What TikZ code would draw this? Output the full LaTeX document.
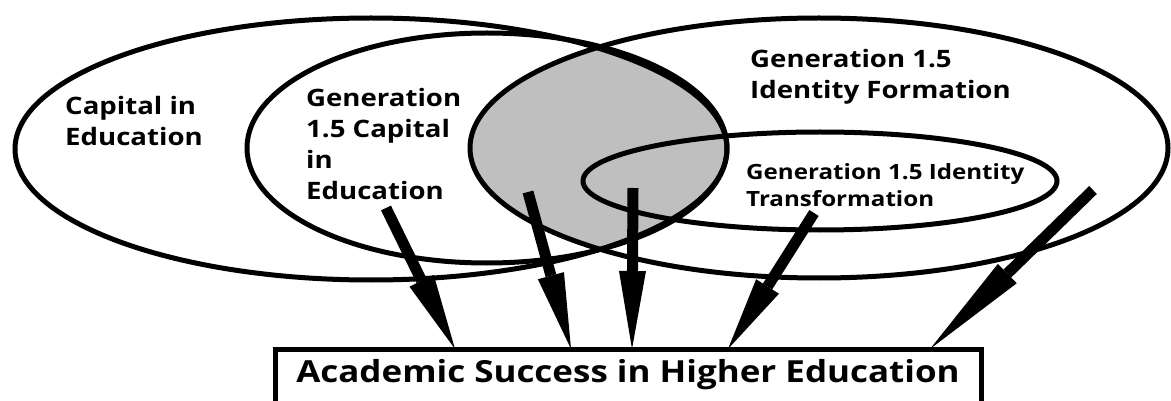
\documentclass[tikz,border=0pt]{standalone}
\usepackage{fontspec}
\setmainfont{Open Sans}[FakeStretch=1.15]
\usetikzlibrary{arrows.meta}

\begin{document}
\begin{tikzpicture}[x=1pt,y=-1pt,
    ring/.style={line width=5pt},
    feed/.style={line width=11pt,-{Triangle[length=#1,width=27pt,line width=0pt]}},
    feed/.default=76pt,
    lbl/.style={anchor=base west,inner sep=0pt,align=left,font=\bfseries\fontsize{24}{31}\selectfont}]
  \useasboundingbox (0,0) rectangle (1171,401);
  \clip (0,0) rectangle (1171,401);
  \begin{scope}
    \clip (819,148) ellipse [x radius=349,y radius=130];
    \fill[black!25] (487,148) ellipse [x radius=240,y radius=115];
  \end{scope}
  \draw[ring] (371,149) ellipse [x radius=356,y radius=131];
  \draw[ring] (487,148) ellipse [x radius=240,y radius=115];
  \draw[ring] (819,148) ellipse [x radius=349,y radius=130];
  \draw[ring] (820,181) ellipse [x radius=237,y radius=49];
  \node[lbl] (capital) at (65,146) {Capital in\\Education};
  \node[lbl] (gencapital) at (306,200) {Generation\\1.5 Capital\\in\\Education};
  \node[lbl] (formation) at (750,99) {Generation 1.5\\Identity Formation};
  \node[lbl,font=\bfseries\fontsize{21}{27}\selectfont] (transform) at (746,207) {Generation 1.5 Identity\\Transformation};
  \node[draw,line width=5pt,outer sep=0pt,anchor=north,minimum width=706pt,text height=20pt,text depth=40pt,inner ysep=13pt,font=\bfseries\fontsize{30.4}{36}\selectfont] (goal) at (628,349) {Academic Success in Higher Education};
  \foreach \i/\sx/\sy/\ex/\hl in {1/386/208/455/76,2/528/192/571/76,3/633/188/632/78,4/814/213/728/74,5/1093/190/930/108}{
    \coordinate (src\i) at (\sx,\sy);
    \draw[feed=\hl pt] (src\i) -- (\ex,0 |- goal.north);
  }
\end{tikzpicture}
\end{document}
